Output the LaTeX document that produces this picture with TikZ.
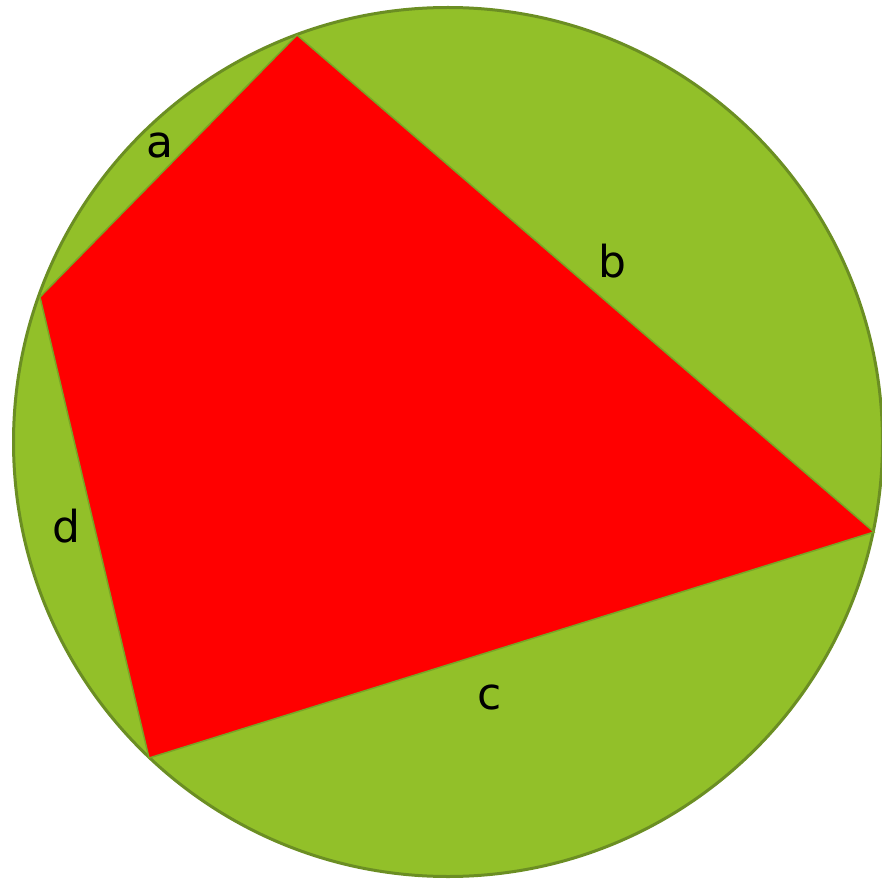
\documentclass[tikz,border=0pt]{standalone}
\usepackage{fontspec}
\setmainfont{DejaVu Sans}
\definecolor{lime}{RGB}{146,192,41}
\definecolor{limeedge}{RGB}{107,142,35}
\definecolor{quadedge}{RGB}{120,165,38}
\begin{document}
\begin{tikzpicture}[x=1pt,y=-1pt,
  lbl/.style={inner sep=0pt, font=\fontsize{44}{50}\selectfont},
  quad/.style={fill=red, draw=quadedge, line width=1.5pt, line join=miter}]
\useasboundingbox (0,0) rectangle (881,882);
\node[circle, minimum size=869pt, inner sep=0pt, fill=lime, draw=limeedge, line width=3pt] (circ) at (448,442) {};
\coordinate (A) at (297,35);
\coordinate (B) at (874,532);
\coordinate (C) at (149,758);
\coordinate (D) at (40,297);
\draw[quad] (A) -- (B) -- (C) -- (D) -- cycle;
\node[lbl] (la) at (160,145) {a};
\node[lbl] (lb) at (612,261) {b};
\node[lbl] (lc) at (490,697) {c};
\node[lbl] (ld) at (66,526) {d};
\end{tikzpicture}
\end{document}
